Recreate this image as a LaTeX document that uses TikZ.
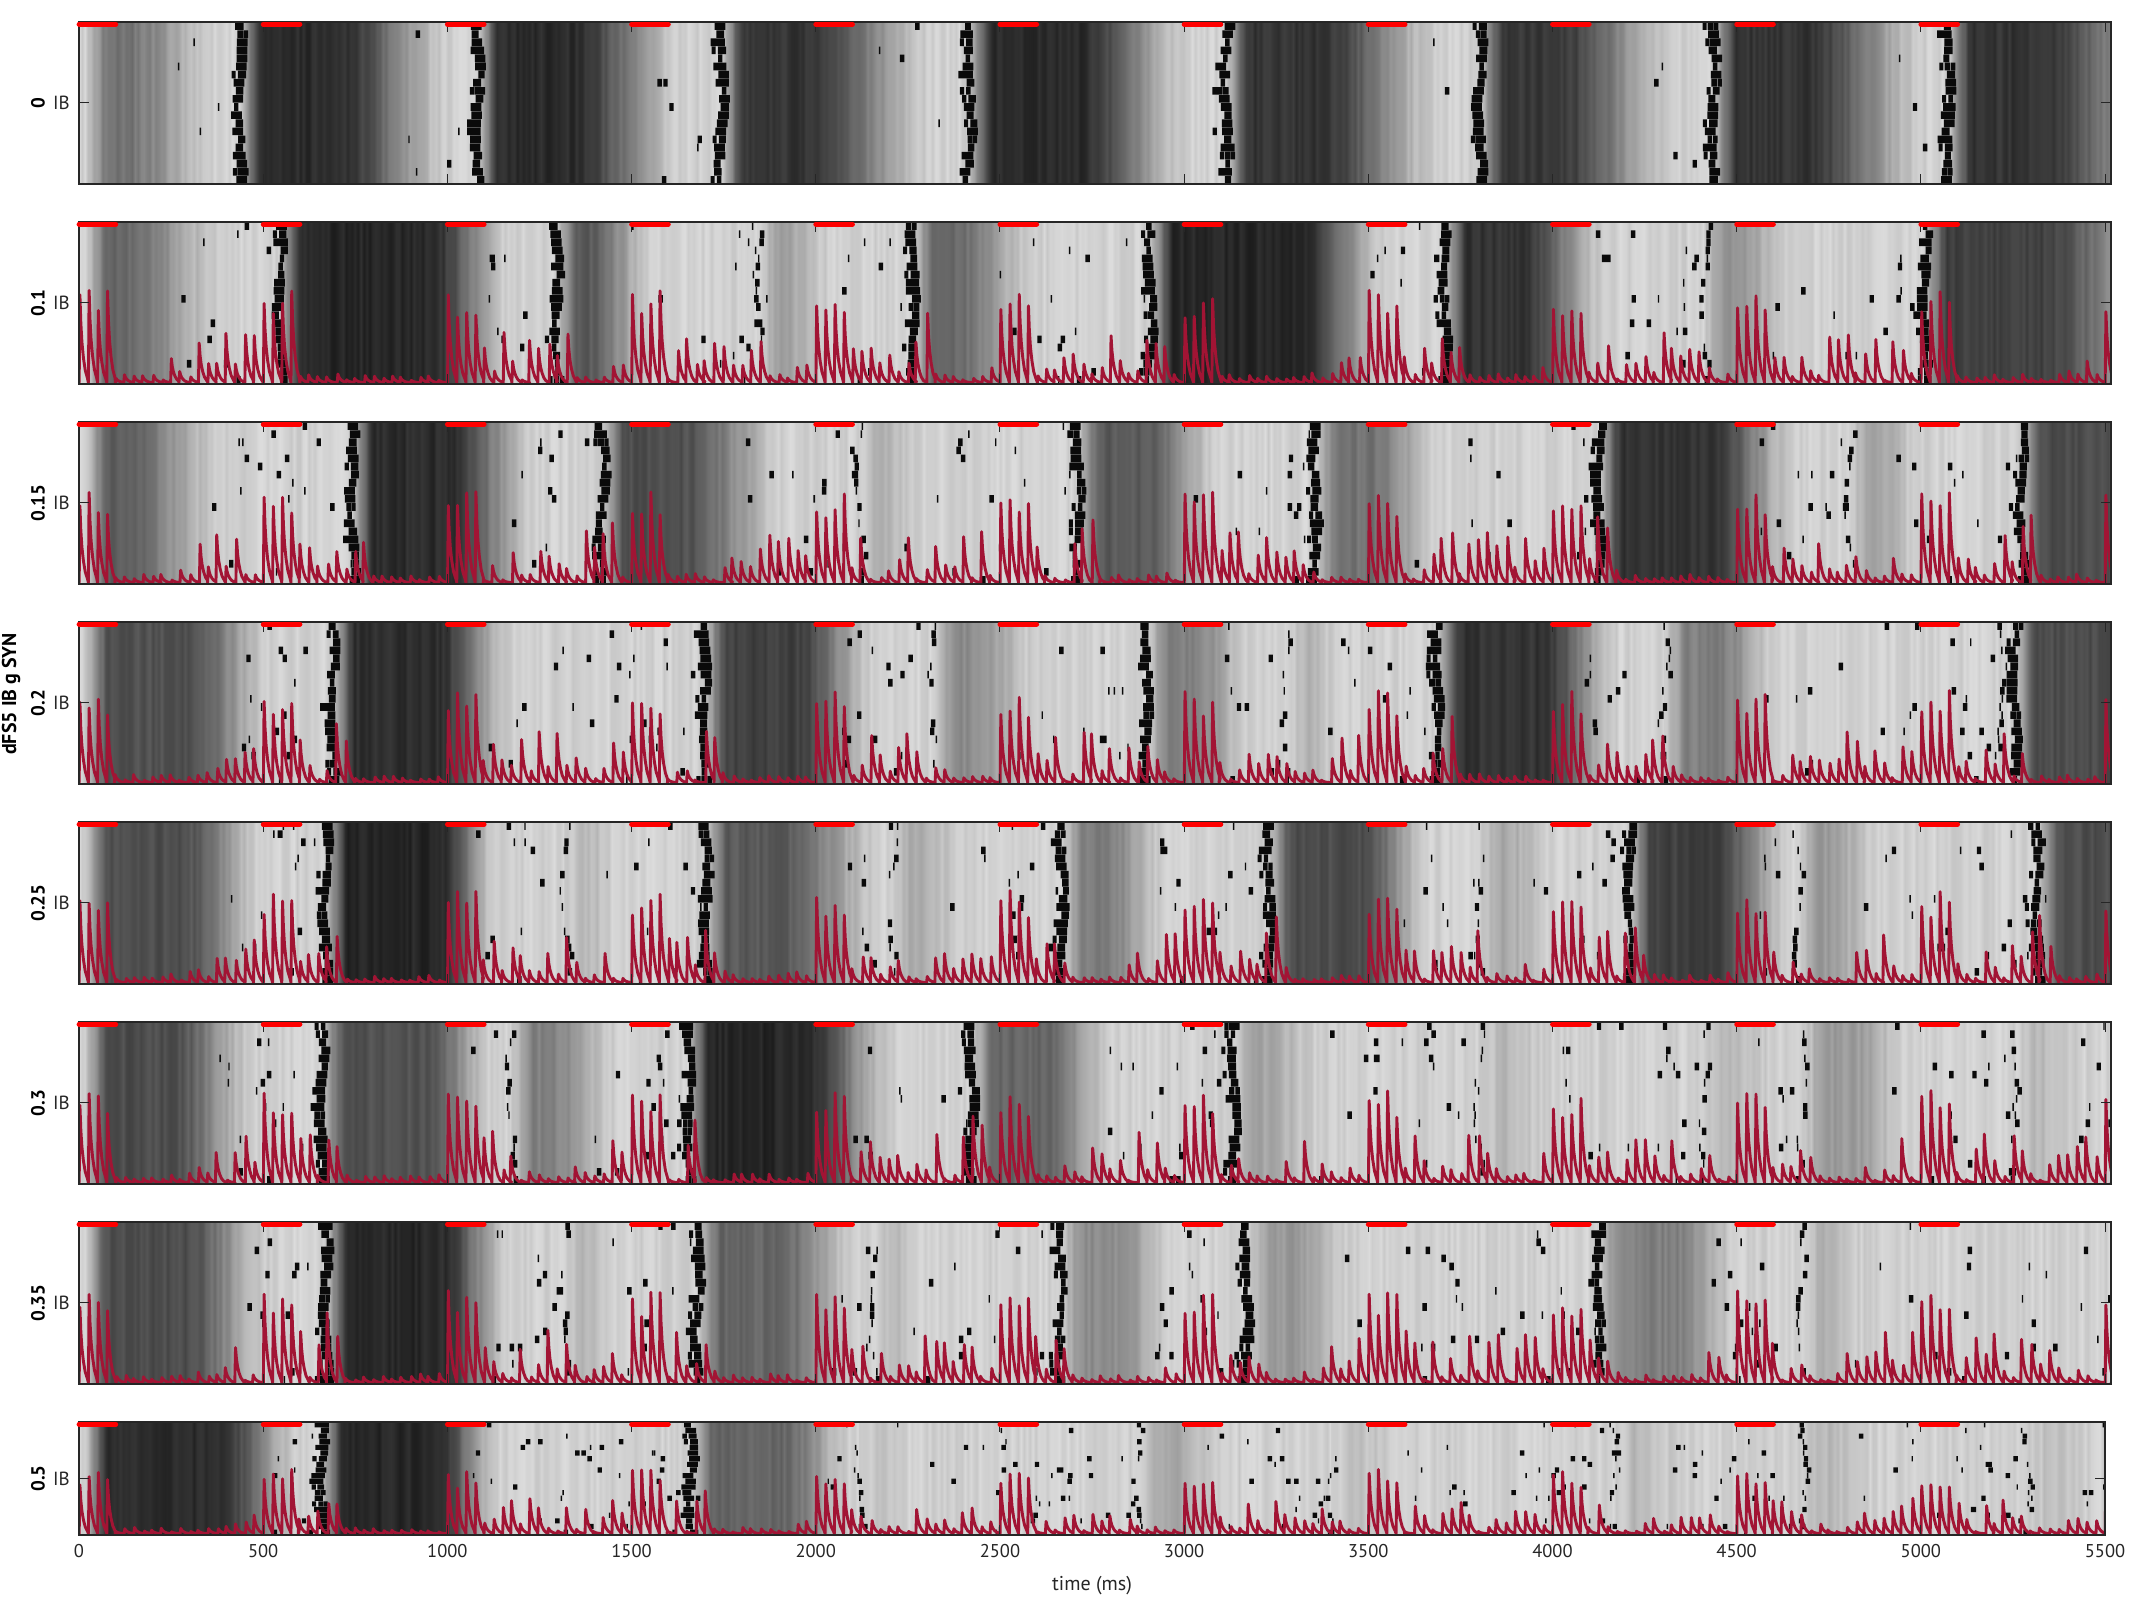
\documentclass[tikz,border=0pt]{standalone}
\usepackage{fontspec}
\setmainfont{PT Sans}
\definecolor{trc}{RGB}{162,20,52}
\definecolor{axc}{gray}{0.15}
\definecolor{stimc}{RGB}{255,0,0}
\definecolor{mkc}{gray}{0.04}
\newcommand\dk[3]{\fpeval{min(max(#1,0)/60,1)*(1-(min(max(((#1)-(#2))/((#3)-(#2)),0),1))^2*(3-2*min(max(((#1)-(#2))/((#3)-(#2)),0),1)))}}
\newcommand\XX{0.36836}
\newcommand\MarkR[3]{\xdef\MarkList{\MarkList (\fpeval{round(79+\XX*(#1),2)},\fpeval{round(\yb+(#2)*\rh+0.25,2)}) rectangle (\fpeval{round(79+\XX*((#1)+(#3)),2)},\fpeval{round(\yb+((#2)+1)*\rh-0.25,2)})}}
\newcount\pnum
\tikzset{
  trace/.style={draw=trc, line width=2.9pt, line join=round, line cap=round},
  frame/.style={draw=axc, line width=1.2pt},
  tickl/.style={draw=axc, line width=1pt},
  stimbar/.style={draw=stimc, line width=4.8pt, line cap=round},
  ticklab/.style={font=\fontsize{18.5}{20}\selectfont, text=axc},
  rowlab/.style={font=\fontsize{19}{21}\selectfont\bfseries, rotate=90, text=black},
  iblab/.style={font=\fontsize{19}{21}\selectfont, text=axc, anchor=east, inner sep=0pt},
}
\newcommand\Panel[9]{%
\global\advance\pnum by 1
\begin{scope}
 \pgfmathsetmacro\yb{#1-#2}%
 \pgfmathsetmacro\rh{#2/20}%
 \pgfmathsetmacro\Wd{#3-79}%
 \def\PH{#2}%
 \def\LL{0.82}%
 \edef\Bs{\fpeval{\yb+1.4}}%
 % ---- background as one horizontal shading
 \xdef\ShSpec{rgb(0pt)=(0.86,0.86,0.86)}%
 \xdef\LastG{0.8}%
 \foreach \Ta/\Tb/\Gm/\Hh/\Rc/\Of in {#4}{%
   \pgfmathtruncatemacro\NM{\Tb-\Ta-1}%
   \foreach \Sx in {0,8,...,\NM}{%
     \pgfmathsetmacro\Nz{rnd}%
     \edef\Pos{\fpeval{round(\XX*(\Ta+\Sx),2)}}%
     \ifdim\Pos pt>0pt \ifdim\Pos pt<\Wd pt
       \edef\Gv{\fpeval{round(min(0.91,max(0.05,\LL-(\LL-\Gm)*\dk{(\Sx)+(\Of)}{\Hh}{\Rc}+0.09*(\Nz-0.5))),3)}}%
       \xdef\ShSpec{\ShSpec; rgb(\Pos pt)=(\Gv,\Gv,\Gv)}%
       \xdef\LastG{\Gv}%
     \fi\fi
   }%
 }%
 \xdef\ShSpec{\ShSpec; rgb(\Wd pt)=(\LastG,\LastG,\LastG)}%
 \edef\Tmp{\noexpand\pgfdeclarehorizontalshading{bgsh\the\pnum}{\PH pt}{\ShSpec}}\Tmp
 \node[inner sep=0pt, outer sep=0pt, anchor=south west] (bg\the\pnum) at (79,\yb) {\pgfuseshading{bgsh\the\pnum}};
 % ---- spike marks collected in one path
 \gdef\MarkList{}%
 \foreach \Ta/\Tb/\Gm/\Hh/\Rc/\Of in {#4}{%
   \pgfmathtruncatemacro\NS{round(#7*(\Tb-\Ta)/100)}%
   \ifnum\NS>0
   \foreach \Ii in {1,...,\NS}{%
     \pgfmathsetmacro\Uu{sqrt(rnd)}%
     \pgfmathsetmacro\Tq{\Ta+\Uu*(\Tb-\Ta)}%
     \edef\Dq{\fpeval{round(\dk{(\Tq)-(\Ta)+(\Of)}{\Hh}{\Rc},3)}}%
     \pgfmathtruncatemacro\Rq{random(0,19)}%
     \pgfmathsetmacro\Pq{rnd}%
     \ifdim\Dq pt<0.45pt
       \ifdim\Pq pt<0.6pt \MarkR{\Tq}{\Rq}{12}\else\MarkR{\Tq}{\Rq}{4}\fi
     \fi
   }%
   \fi
 }%
 \foreach \Bt [count=\Bi] in {#5}{%
   \foreach \Rw in {0,...,19}{%
     \pgfmathsetmacro\Wb{\Bt+7*sin(\Rw*23+\Bi*71)}%
     \pgfmathsetmacro\Pa{rnd}\pgfmathsetmacro\Pb{rnd}\pgfmathsetmacro\Pc{rnd}\pgfmathsetmacro\Pd{rnd}\pgfmathsetmacro\Pe{rnd}%
     \MarkR{\Wb-3+6*(\Pa-0.5)}{\Rw}{12}%
     \ifdim\Pb pt<0.8pt \MarkR{\Wb+6+6*(\Pd-0.5)}{\Rw}{12}\fi
     \ifdim\Pc pt<0.6pt \MarkR{\Wb-11+6*(\Pd-0.5)}{\Rw}{12}\fi
     \ifdim\Pe pt<0.25pt \MarkR{\Wb-20+6*(\Pa-0.5)}{\Rw}{11}\fi
   }%
 }%
 \foreach \Bt [count=\Bi] in {#6}{%
   \foreach \Rw in {0,...,19}{%
     \pgfmathsetmacro\Pa{rnd}\pgfmathsetmacro\Pb{rnd}\pgfmathsetmacro\Pc{rnd}%
     \ifdim\Pa pt<0.6pt
       \pgfmathsetmacro\Wb{\Bt+10*sin(\Rw*19+\Bi*53)+14*(\Pb-0.5)}%
       \ifdim\Pc pt<0.55pt \MarkR{\Wb}{\Rw}{12}\else\MarkR{\Wb}{\Rw}{4}\fi
     \fi
   }%
 }%
 % ---- trace collected in one path
 \xdef\TrList{(79,\Bs)}%
 \ifnum#8=1
 \foreach \Ta/\Tb/\Gm/\Hh/\Rc/\Of in {#4}{%
   \pgfmathtruncatemacro\Ka{ceil(\Ta/25)}%
   \pgfmathtruncatemacro\Kb{min(ceil(\Tb/25)-1,222)}%
   \ifnum\Kb<\Ka\relax\else
   \foreach \Kk in {\Ka,...,\Kb}{%
     \pgfmathtruncatemacro\St{mod(\Kk,20)<4 ? 1 : 0}%
     \pgfmathsetmacro\Ja{rnd}\pgfmathsetmacro\Ra{rnd}%
     \edef\Pk{\fpeval{round(25*\Kk+(\St>0.5 ? 2 : 7*(\Ja-0.5)),2)}}%
     \edef\Ag{\fpeval{(\Pk)-(\Ta)+(\Of)}}%
     \edef\Ad{\dk{\Ag}{\Hh}{\Rc}}%
     \edef\Am{\fpeval{round(\PH*(\St>0.5 ? 0.40+0.17*\Ra : ((\Ag<45 && \Gm<0.45 && \Ta>0) ? 0.16+0.28*\Ra : 0.014+0.04*\Ra+0.27*(1-\Ad)*\Ra^1.2)),3)}}%
     \edef\Xp{\fpeval{round(79+\XX*\Pk,3)}}%
     \xdef\TrList{\TrList -- (\fpeval{round(\Xp-0.55,2)},\Bs) -- (\fpeval{round(\Xp+0.18,2)},\fpeval{round(\Bs+\Am,2)}) -- (\fpeval{round(\Xp+1.1,2)},\fpeval{round(\Bs+0.68*\Am,2)}) -- (\fpeval{round(\Xp+2.2,2)},\fpeval{round(\Bs+0.46*\Am,2)}) -- (\fpeval{round(\Xp+3.7,2)},\fpeval{round(\Bs+0.28*\Am,2)}) -- (\fpeval{round(\Xp+5.5,2)},\fpeval{round(\Bs+0.14*\Am,2)}) -- (\fpeval{round(\Xp+7.7,2)},\fpeval{round(\Bs+0.05*\Am,2)})}%
   }%
   \fi
 }%
 \fi
 \xdef\TrList{\TrList -- (#3,\Bs)}%
 \begin{scope}
  \clip (79,\yb) rectangle (#3,#1);
  \edef\Tmp{\noexpand\fill[mkc] \MarkList;}\Tmp
  \ifnum#8=1
  \edef\Tmp{\noexpand\draw[trace] \TrList;}\Tmp
  \fi
 \end{scope}
 % ---- frame and ticks
 \draw[frame] (79,\yb) rectangle (#3,#1);
 \foreach \v in {0,500,...,5500}{%
   \draw[tickl] ({79+\XX*\v},\yb) -- ++(0,10);
   \draw[tickl] ({79+\XX*\v},#1) -- ++(0,-10);
 }
 \draw[tickl] (79,{\yb+#2/2}) -- ++(10,0);
 \draw[tickl] (#3,{\yb+#2/2}) -- ++(-10,0);
 % ---- stimulus bars
 \foreach \v in {0,500,...,5000}{%
   \draw[stimbar] ({79+\XX*\v},{#1-2.2}) -- ++(36.8,0);
 }
 \node[iblab] (ib\the\pnum) at (70,{\yb+#2/2}) {IB};
 \node[rowlab] (rl\the\pnum) at (38,{\yb+#2/2}) {#9};
\end{scope}
}
\begin{document}
\begin{tikzpicture}[x=1pt,y=1pt]
\pgfmathsetseed{4711}
\useasboundingbox (0,0) rectangle (2133,1600);
\fill[white] (0,0) rectangle (2133,1600);

\Panel{1578}{162}{2111}{0/433/0.45/100/380/-15, 433/1078/0.17/250/600/0, 1078/1741/0.17/250/580/0, 1741/2414/0.2/220/600/0, 2414/3112/0.16/280/620/0, 3112/3800/0.2/250/600/0, 3800/4434/0.22/200/560/0, 4434/5072/0.2/250/600/0, 5072/5600/0.2/250/620/0}{433,1078,1741,2414,3112,3800,4434,5072}{-999}{1.2}{0}{0}

\Panel{1378}{162}{2111}{0/541/0.4/90/400/-15, 541/1293/0.15/400/640/0, 1293/1841/0.35/80/280/0, 1841/2260/0.62/50/220/0, 2260/2905/0.4/100/350/0, 2905/3704/0.15/400/660/0, 3704/4409/0.2/200/460/0, 4409/5007/0.55/60/260/0, 5007/5600/0.25/300/700/0}{541,1293,2260,2905,3704,5007}{1841,4409}{2.5}{1}{0.1}

\Panel{1178}{162}{2111}{0/738/0.35/80/400/-15, 738/1418/0.17/250/520/0, 1418/2117/0.3/200/520/0, 2117/2708/0.65/40/160/0, 2708/3352/0.35/180/400/0, 3352/4122/0.45/150/350/0, 4122/4803/0.2/300/550/0, 4803/5268/0.6/50/200/0, 5268/5600/0.3/200/500/0}{738,1418,2708,3352,4122,5268}{2117,4803}{3}{1}{0.15}

\Panel{978}{162}{2111}{0/684/0.32/280/520/-15, 684/1694/0.18/280/500/0, 1694/2314/0.25/250/480/0, 2314/2894/0.55/100/300/0, 2894/3274/0.5/120/300/0, 3274/3685/0.7/50/150/0, 3685/4302/0.2/280/500/0, 4302/5251/0.5/150/320/0, 5251/5600/0.3/250/600/0}{684,1694,2894,3685,5251}{2314,3274,4302,5215}{3.5}{1}{0.2}

\Panel{778}{162}{2111}{0/666/0.3/250/500/-15, 666/1318/0.15/300/480/0, 1318/1698/0.7/40/150/0, 1698/2206/0.35/200/500/0, 2206/2665/0.65/60/200/0, 2665/3227/0.5/120/300/0, 3227/3800/0.3/250/450/0, 3800/4205/0.65/60/200/0, 4205/4660/0.25/230/450/0, 4660/5312/0.6/60/250/0, 5312/5600/0.3/150/500/0}{666,1698,2665,3227,4205,5312}{1318,2206,3800,4660}{3.5}{1}{0.25}

\Panel{578}{162}{2111}{0/655/0.3/230/480/-15, 655/1168/0.32/280/480/0, 1168/1651/0.5/100/300/0, 1651/2421/0.15/300/580/0, 2421/3130/0.4/200/400/0, 3130/3800/0.65/80/250/0, 3800/4409/0.72/50/200/0, 4409/4678/0.7/50/200/0, 4678/5251/0.6/120/300/0, 5251/5600/0.72/50/200/0}{655,1651,2421,3130}{1168,3800,4409,4678,5251}{3.5}{1}{0.3}

\Panel{378}{162}{2111}{0/666/0.3/260/520/-15, 666/1318/0.15/300/520/0, 1318/1676/0.7/40/150/0, 1676/2153/0.4/220/450/0, 2153/2661/0.7/40/150/0, 2661/3166/0.55/150/320/0, 3166/4122/0.6/130/300/0, 4122/4670/0.5/200/400/0, 4670/5600/0.7/50/200/0}{666,1676,2661,3166,4122}{1318,2153,4670}{3.5}{1}{0.35}

\Panel{178}{113}{2105}{0/655/0.17/350/600/-15, 655/1658/0.15/300/500/0, 1658/2117/0.4/250/450/0, 2117/2869/0.75/40/150/0, 2869/3399/0.65/80/250/0, 3399/4165/0.75/50/200/0, 4165/4678/0.72/50/200/0, 4678/5286/0.72/50/200/0, 5286/5600/0.75/50/200/0}{655,1658}{2117,2869,3399,4165,4678,5286}{4.5}{1}{0.5}

\foreach \v in {0,500,...,5500}{%
  \node[ticklab] (xt\v) at ({79+\XX*\v},49) {\v};
}
\node[ticklab, font=\fontsize{20}{22}\selectfont] (xlab) at (1092,14) {time (ms)};
\node[font=\fontsize{20}{22}\selectfont\bfseries, rotate=90] (ylab) at (11,906) {dFS5 IB g SYN};
\end{tikzpicture}
\end{document}
